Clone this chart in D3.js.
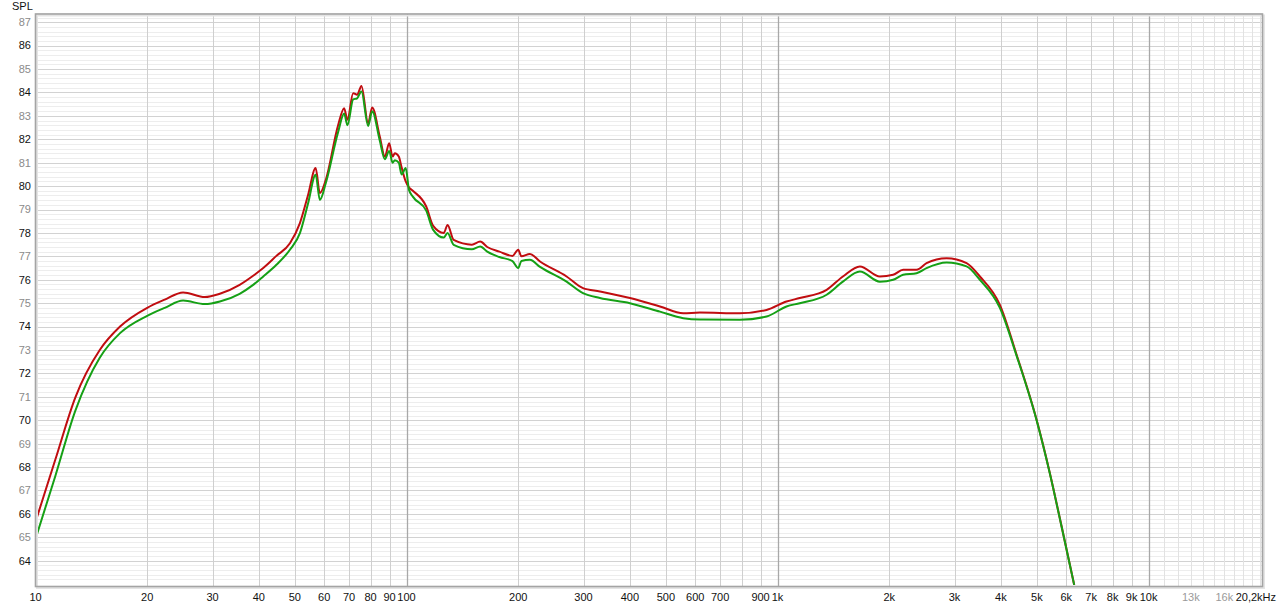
<!DOCTYPE html>
<html>
<head>
<meta charset="utf-8">
<title>SPL</title>
<script src="https://cdn.jsdelivr.net/npm/d3@7"></script>
<style>
body { margin: 0; background: #fff; }
text { font-family: "Liberation Sans", Arial, sans-serif; font-size: 11px; }
</style>
</head>
<body>
<div id="chart"></div>
<script>
// frequencies (Hz) shared by both traces
var freq = [10, 11.3, 12.8, 14.9, 16.9, 20, 22.3, 25, 28.6, 31.4, 35.5, 38.6, 41.1, 44.6, 48.5,
  51.6, 54.3, 56.9, 58.4, 60.6, 65.4, 67.9, 69.3, 71.8, 73.6, 75.6, 78.8, 80.8, 84.7, 87.4,
  89.8, 91.7, 93, 95.3, 97, 99.5, 101.5, 104, 113, 118, 126, 129, 134, 150, 158, 165, 178,
  193, 200, 204, 215, 229, 270, 299, 332, 400, 482, 557, 618, 791, 934, 1057, 1148, 1356,
  1500, 1667, 1887, 2049, 2180, 2370, 2521, 2855, 3232, 3510, 3974, 4409, 4991, 5420, 5830, 6303];

var redSpl = [65.66, 68.3, 70.97, 73.0, 74.0, 74.8, 75.15, 75.46, 75.26, 75.4, 75.78, 76.17, 76.5, 77.02, 77.56,
  78.42, 79.63, 80.77, 79.7, 80.27, 82.6, 83.33, 82.83, 83.97, 83.9, 84.28, 82.69, 83.36, 82.12, 81.26,
  81.83, 81.26, 81.4, 81.26, 80.8, 80.2, 79.95, 79.8, 79.13, 78.3, 78.0, 78.34, 77.7, 77.5, 77.63, 77.4, 77.2,
  77.02, 77.28, 77.0, 77.1, 76.78, 76.14, 75.64, 75.5, 75.22, 74.86, 74.57, 74.6, 74.57, 74.71, 75.07, 75.22, 75.57,
  76.14, 76.57, 76.14, 76.21, 76.43, 76.43, 76.71, 76.92, 76.71, 76.14, 74.93, 72.8, 70.02, 67.74, 65.46, 62.97];

var greenSpl = [64.93, 67.6, 70.4, 72.67, 73.72, 74.46, 74.8, 75.11, 74.96, 75.07, 75.4, 75.78, 76.14, 76.64, 77.28,
  77.99, 79.27, 80.48, 79.41, 80.13, 82.3, 83.1, 82.6, 83.7, 83.75, 84.04, 82.57, 83.2, 81.95, 81.15,
  81.5, 81.0, 81.1, 81.0, 80.5, 80.77, 79.85, 79.55, 78.95, 78.13, 77.8, 78.0, 77.49, 77.3, 77.42, 77.2, 76.97,
  76.8, 76.5, 76.8, 76.85, 76.55, 75.92, 75.43, 75.22, 75.0, 74.64, 74.36, 74.3, 74.29, 74.43, 74.86, 75.0, 75.36,
  75.92, 76.35, 75.92, 76.0, 76.21, 76.28, 76.5, 76.74, 76.57, 76.0, 74.8, 72.75, 70.0, 67.72, 65.45, 62.97];

var yTicks = d3.range(64, 88);
var xTicks = [10, 20, 30, 40, 50, 60, 70, 80, 90, 100, 200, 300, 400, 500, 600, 700, 900, 1000,
  2000, 3000, 4000, 5000, 6000, 7000, 8000, 9000, 10000, 13000, 16000];
var xGrid = [20, 30, 40, 50, 60, 70, 80, 90, 200, 300, 400, 500, 600, 700, 800, 900,
  2000, 3000, 4000, 5000, 6000, 7000, 8000, 9000,
  11000, 12000, 13000, 14000, 15000, 16000, 17000, 18000, 19000, 20000];
var xMajor = [100, 1000, 10000];

var svgWidth = 1280, svgHeight = 606;
var plotL = 35.5, plotR = 1262.5, plotT = 14, plotB = 586.5;

var svg = d3.select("#chart").append("svg")
    .attr("width", svgWidth)
    .attr("height", svgHeight);

var x = d3.scaleLog().domain([10, 20280]).range([plotL, plotR]);
var y = d3.scaleLinear().domain([62.9, 87.35]).range([plotB, plotT]);

// minor horizontal lines every 0.2 dB
var minor = d3.range(63, 87.4, 0.2).filter(function(v) { return Math.abs(v - Math.round(v)) > 0.01; });
svg.append("g").selectAll("line").data(minor).enter().append("line")
    .attr("x1", plotL).attr("x2", plotR)
    .attr("y1", function(d) { return Math.round(y(d)) + 0.5; })
    .attr("y2", function(d) { return Math.round(y(d)) + 0.5; })
    .attr("stroke", "#ededed");

svg.append("g").selectAll("line").data(yTicks).enter().append("line")
    .attr("x1", plotL).attr("x2", plotR)
    .attr("y1", function(d) { return Math.round(y(d)) + 0.5; })
    .attr("y2", function(d) { return Math.round(y(d)) + 0.5; })
    .attr("stroke", "#d2d2d2");

svg.append("g").selectAll("line").data(xGrid).enter().append("line")
    .attr("x1", function(d) { return Math.round(x(d)) + 0.5; })
    .attr("x2", function(d) { return Math.round(x(d)) + 0.5; })
    .attr("y1", plotT).attr("y2", plotB)
    .attr("stroke", function(d) { return d > 10000 ? "#e2e2e2" : "#cfcfcf"; });

svg.append("g").selectAll("line").data(xMajor).enter().append("line")
    .attr("x1", function(d) { return Math.round(x(d)) + 0.5; })
    .attr("x2", function(d) { return Math.round(x(d)) + 0.5; })
    .attr("y1", plotT).attr("y2", plotB)
    .attr("stroke", "#a8a8a8")
    .attr("stroke-width", 1.3);

// traces
var line = d3.line()
    .x(function(d) { return x(d[0]); })
    .y(function(d) { return y(d[1]); })
    .curve(d3.curveMonotoneX);

svg.append("defs").append("clipPath").attr("id", "plot")
  .append("rect").attr("x", plotL).attr("y", plotT).attr("width", plotR - plotL).attr("height", plotB - plotT);

var series = [
  {color: "#c00d10", values: redSpl},
  {color: "#15a015", values: greenSpl}
];
series.forEach(function(s) {
  svg.append("path")
      .datum(d3.zip(freq, s.values))
      .attr("clip-path", "url(#plot)")
      .attr("fill", "none")
      .attr("stroke", s.color)
      .attr("stroke-width", 2)
      .attr("stroke-linejoin", "round")
      .attr("d", line);
});

// frame
svg.append("rect")
    .attr("x", plotL + 1.5).attr("y", plotT + 1.5)
    .attr("width", plotR - plotL).attr("height", plotB - plotT)
    .attr("fill", "none").attr("stroke", "#e4e4e4").attr("stroke-width", 2);
svg.append("rect")
    .attr("x", plotL).attr("y", plotT)
    .attr("width", plotR - plotL).attr("height", plotB - plotT)
    .attr("fill", "none").attr("stroke", "#a4a4a4").attr("stroke-width", 1.6);

// y labels
svg.append("g").selectAll("text").data(yTicks).enter().append("text")
    .attr("x", 31)
    .attr("y", function(d) { return y(d); })
    .attr("dy", "0.35em")
    .attr("text-anchor", "end")
    .attr("fill", function(d) { return d % 2 === 0 ? "#111" : "#8a8a8a"; })
    .text(function(d) { return d; });

svg.append("text").attr("x", 12).attr("y", 10).attr("fill", "#111").text("SPL");

// x labels
function fmt(d) { return d >= 1000 ? (d / 1000) + "k" : String(d); }
svg.append("g").selectAll("text").data(xTicks).enter().append("text")
    .attr("x", function(d) { return x(d); })
    .attr("y", 601)
    .attr("text-anchor", "middle")
    .attr("fill", function(d) { return d > 10000 ? "#9a9a9a" : "#111"; })
    .text(fmt);

svg.append("text").attr("x", 1276).attr("y", 601)
    .attr("text-anchor", "end").attr("fill", "#111").text("20,2kHz");
</script>
</body>
</html>
